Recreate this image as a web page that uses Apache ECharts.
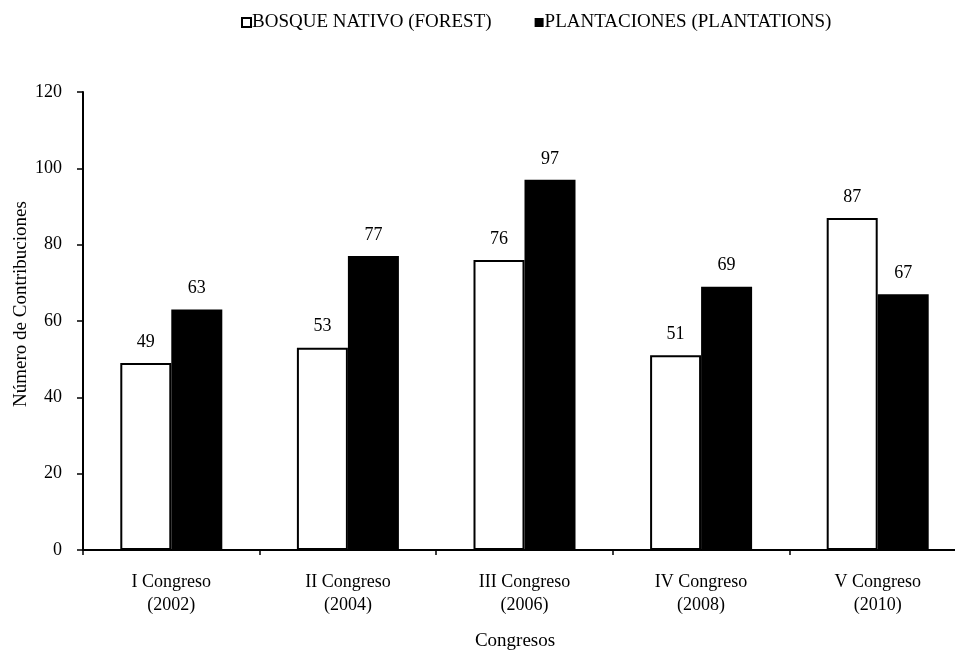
<!DOCTYPE html>
<html>
<head>
<meta charset="utf-8">
<script src="https://cdn.jsdelivr.net/npm/echarts@6/dist/echarts.min.js"></script>
<style>
  html, body { margin: 0; padding: 0; background: #fff; }
  #chart { width: 955px; height: 651px; }
</style>
</head>
<body>
<div id="chart"></div>
<script>
// Contributions per congress, split by native forest and plantations
const categories = ['I Congreso\n(2002)', 'II Congreso\n(2004)', 'III Congreso\n(2006)', 'IV Congreso\n(2008)', 'V Congreso\n(2010)'];
const bosqueNativo = [49, 53, 76, 51, 87];
const plantaciones = [63, 77, 97, 69, 67];
const seriesNames = ['BOSQUE NATIVO (FOREST)', 'PLANTACIONES (PLANTATIONS)'];
const yAxisTitle = 'Número de Contribuciones';
const xAxisTitle = 'Congresos';

const FONT = '"Liberation Serif", "Times New Roman", serif';
const FS = 18;

const chart = echarts.init(document.getElementById('chart'));

const labelStyle = {
  show: true,
  position: 'top',
  distance: 12,
  color: '#000',
  fontFamily: FONT,
  fontSize: FS
};

const titleText = (text, x, y, rotation) => ({
  type: 'text',
  x: x,
  y: y,
  rotation: rotation,
  style: {
    text: text,
    fontFamily: FONT,
    fontSize: 19,
    fill: '#000',
    align: 'center',
    verticalAlign: 'middle'
  }
});

chart.setOption({
  animation: false,
  textStyle: { fontFamily: FONT, color: '#000' },
  legend: {
    top: 8,
    left: 236,
    itemWidth: 9,
    itemHeight: 9,
    itemGap: 43,
    icon: 'rect',
    textStyle: { fontFamily: FONT, fontSize: 19, color: '#000', padding: [0, 0, 0, -4] },
    data: [
      { name: seriesNames[0], itemStyle: { color: '#fff', borderColor: '#000', borderWidth: 2 } },
      { name: seriesNames[1], itemStyle: { color: '#000', borderColor: '#000', borderWidth: 0 } }
    ]
  },
  grid: { left: 83, top: 92, width: 883, height: 458, containLabel: false, outerBoundsMode: 'none' },
  xAxis: {
    type: 'category',
    data: categories,
    axisLine: { lineStyle: { color: '#000', width: 2 } },
    axisTick: { show: true, alignWithLabel: false, length: 5, lineStyle: { color: '#000', width: 1.5 } },
    axisLabel: { fontFamily: FONT, fontSize: FS, color: '#000', margin: 21, lineHeight: 23 }
  },
  yAxis: {
    type: 'value',
    min: 0,
    max: 120,
    interval: 20,
    splitLine: { show: false },
    axisLine: { show: true, lineStyle: { color: '#000', width: 2 } },
    axisTick: { show: true, length: 6, lineStyle: { color: '#000', width: 1.5 } },
    axisLabel: { fontFamily: FONT, fontSize: FS, color: '#000', margin: 21 }
  },
  graphic: [
    titleText(yAxisTitle, 21, 304, Math.PI / 2),
    titleText(xAxisTitle, 515, 641, 0)
  ],
  series: [
    {
      name: seriesNames[0],
      type: 'bar',
      data: bosqueNativo,
      barWidth: 51,
      barGap: '0%',
      itemStyle: { color: '#fff', borderColor: '#000', borderWidth: 2 },
      label: labelStyle
    },
    {
      name: seriesNames[1],
      type: 'bar',
      data: plantaciones,
      barWidth: 51,
      itemStyle: { color: '#000', borderColor: '#000', borderWidth: 2 },
      label: labelStyle
    }
  ]
});
</script>
</body>
</html>
